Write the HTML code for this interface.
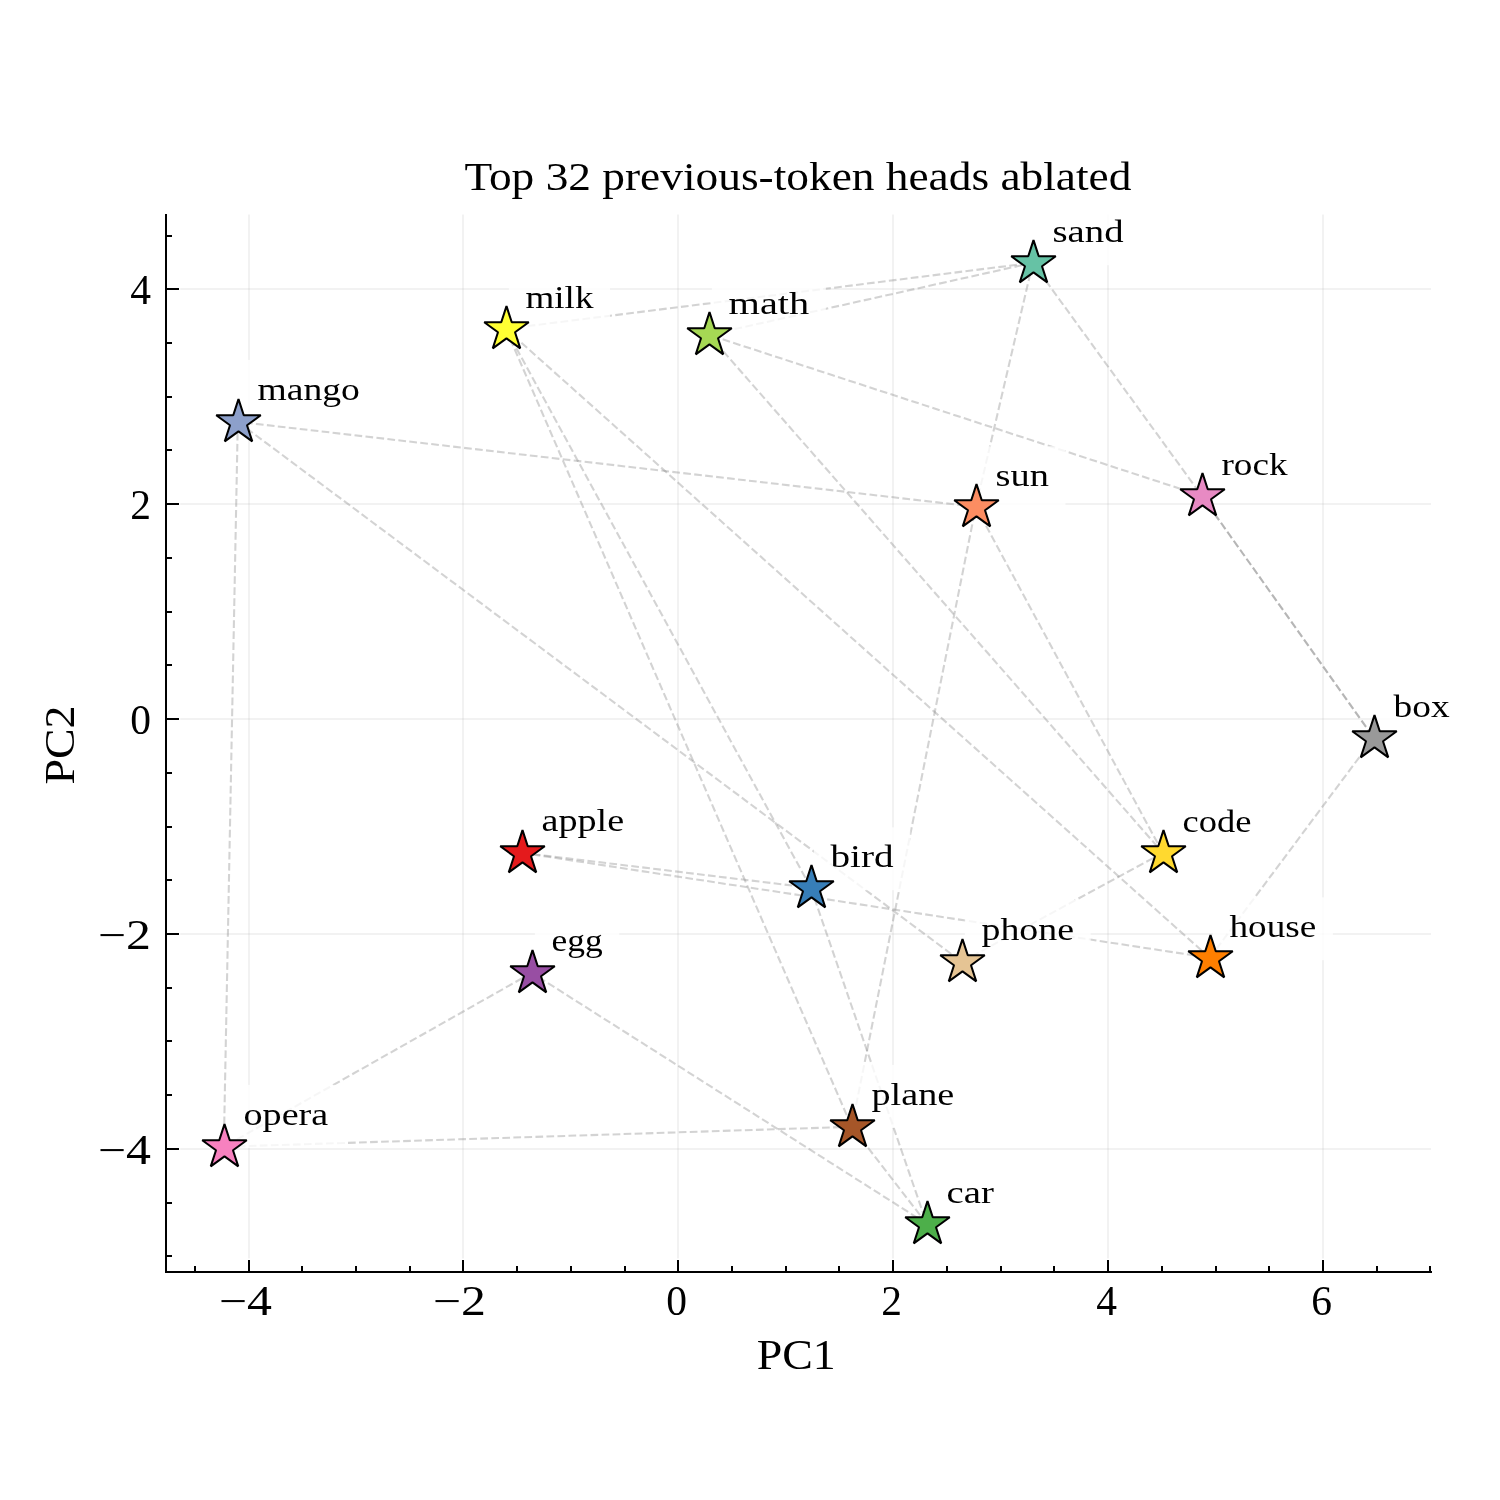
<!DOCTYPE html><html><head><meta charset="utf-8"><style>html,body{margin:0;padding:0;background:#fff;}svg{display:block;will-change:transform;}text{font-family:"Liberation Serif",serif;fill:#000;}</style></head><body>
<svg width="1500" height="1500" viewBox="0 0 1500 1500">
<rect x="0" y="0" width="1500" height="1500" fill="#fff"/>
<g stroke="#b0b0b0" stroke-opacity="0.17" stroke-width="2" fill="none">
<line x1="249" y1="214.5" x2="249" y2="1258.6"/>
<line x1="463" y1="214.5" x2="463" y2="1258.6"/>
<line x1="678" y1="214.5" x2="678" y2="1258.6"/>
<line x1="893" y1="214.5" x2="893" y2="1258.6"/>
<line x1="1108" y1="214.5" x2="1108" y2="1258.6"/>
<line x1="1323" y1="214.5" x2="1323" y2="1258.6"/>
<line x1="180.2" y1="1149" x2="1431" y2="1149"/>
<line x1="180.2" y1="934" x2="1431" y2="934"/>
<line x1="180.2" y1="719" x2="1431" y2="719"/>
<line x1="180.2" y1="504" x2="1431" y2="504"/>
<line x1="180.2" y1="289" x2="1431" y2="289"/>
</g>
<g stroke="#808080" stroke-opacity="0.35" stroke-width="2.08" stroke-dasharray="7.7 3.33" fill="none">
<line x1="505.80" y1="328.80" x2="1032.80" y2="262.80"/>
<line x1="1032.80" y1="262.80" x2="708.80" y2="334.80"/>
<line x1="1032.80" y1="262.80" x2="975.80" y2="506.80"/>
<line x1="1032.80" y1="262.80" x2="1201.80" y2="495.80"/>
<line x1="1201.80" y1="495.80" x2="708.80" y2="334.80"/>
<line x1="975.80" y1="506.80" x2="237.80" y2="421.80"/>
<line x1="851.80" y1="1126.80" x2="975.80" y2="506.80"/>
<line x1="1162.80" y1="852.80" x2="975.80" y2="506.80"/>
<line x1="708.80" y1="334.80" x2="1162.80" y2="852.80"/>
<line x1="1209.80" y1="957.80" x2="505.80" y2="328.80"/>
<line x1="1201.80" y1="495.80" x2="1373.80" y2="737.80"/>
<line x1="1201.80" y1="495.80" x2="1373.80" y2="737.80"/>
<line x1="521.80" y1="852.80" x2="810.80" y2="887.80"/>
<line x1="521.80" y1="852.80" x2="1209.80" y2="957.80"/>
<line x1="237.80" y1="421.80" x2="223.80" y2="1146.80"/>
<line x1="237.80" y1="421.80" x2="961.80" y2="961.80"/>
<line x1="505.80" y1="328.80" x2="851.80" y2="1126.80"/>
<line x1="505.80" y1="328.80" x2="810.80" y2="887.80"/>
<line x1="1209.80" y1="957.80" x2="1373.80" y2="737.80"/>
<line x1="1162.80" y1="852.80" x2="961.80" y2="961.80"/>
<line x1="810.80" y1="887.80" x2="926.80" y2="1223.80"/>
<line x1="531.80" y1="972.80" x2="223.80" y2="1146.80"/>
<line x1="926.80" y1="1223.80" x2="531.80" y2="972.80"/>
<line x1="851.80" y1="1126.80" x2="223.80" y2="1146.80"/>
<line x1="926.80" y1="1223.80" x2="851.80" y2="1126.80"/>
</g>
<g fill="#fff" fill-opacity="0.8">
<rect x="240.83" y="359.89" width="135.66" height="62.96"/>
<rect x="1035.83" y="202.29" width="104.38" height="62.96"/>
<rect x="508.83" y="268.29" width="101.23" height="62.96"/>
<rect x="711.83" y="274.29" width="114.02" height="62.96"/>
<rect x="978.83" y="446.29" width="86.67" height="62.96"/>
<rect x="1204.83" y="435.29" width="99.36" height="62.96"/>
<rect x="1376.83" y="677.29" width="89.42" height="62.96"/>
<rect x="1165.83" y="792.29" width="102.21" height="62.96"/>
<rect x="524.83" y="790.89" width="115.99" height="62.96"/>
<rect x="813.83" y="827.29" width="96.41" height="62.96"/>
<rect x="964.83" y="899.89" width="125.83" height="62.96"/>
<rect x="1212.83" y="897.29" width="120.12" height="62.96"/>
<rect x="534.83" y="910.89" width="84.50" height="62.96"/>
<rect x="854.83" y="1064.89" width="115.99" height="62.96"/>
<rect x="226.83" y="1084.89" width="118.05" height="62.96"/>
<rect x="929.83" y="1163.29" width="80.66" height="62.96"/>
</g>
<g font-size="32.0">
<text x="257.50" y="399.70" textLength="102.32" lengthAdjust="spacingAndGlyphs">mango</text>
<text x="1052.50" y="242.10" textLength="71.04" lengthAdjust="spacingAndGlyphs">sand</text>
<text x="525.50" y="308.10" textLength="67.89" lengthAdjust="spacingAndGlyphs">milk</text>
<text x="728.50" y="314.10" textLength="80.68" lengthAdjust="spacingAndGlyphs">math</text>
<text x="995.50" y="486.10" textLength="53.33" lengthAdjust="spacingAndGlyphs">sun</text>
<text x="1221.50" y="475.10" textLength="66.02" lengthAdjust="spacingAndGlyphs">rock</text>
<text x="1393.50" y="717.10" textLength="56.08" lengthAdjust="spacingAndGlyphs">box</text>
<text x="1182.50" y="832.10" textLength="68.87" lengthAdjust="spacingAndGlyphs">code</text>
<text x="541.50" y="830.70" textLength="82.65" lengthAdjust="spacingAndGlyphs">apple</text>
<text x="830.50" y="867.10" textLength="63.07" lengthAdjust="spacingAndGlyphs">bird</text>
<text x="981.50" y="939.70" textLength="92.49" lengthAdjust="spacingAndGlyphs">phone</text>
<text x="1229.50" y="937.10" textLength="86.78" lengthAdjust="spacingAndGlyphs">house</text>
<text x="551.50" y="950.70" textLength="51.16" lengthAdjust="spacingAndGlyphs">egg</text>
<text x="871.50" y="1104.70" textLength="82.65" lengthAdjust="spacingAndGlyphs">plane</text>
<text x="243.50" y="1124.70" textLength="84.71" lengthAdjust="spacingAndGlyphs">opera</text>
<text x="946.50" y="1203.10" textLength="47.32" lengthAdjust="spacingAndGlyphs">car</text>
</g>
<g stroke="#000" stroke-width="2.05" stroke-linejoin="bevel">
<path d="M238.50,399.10 L233.25,415.27 L216.25,415.27 L230.00,425.26 L224.75,441.43 L238.50,431.44 L252.25,441.43 L247.00,425.26 L260.75,415.27 L243.75,415.27 Z" fill="#8da0cb"/>
<path d="M1033.50,240.10 L1028.25,256.27 L1011.25,256.27 L1025.00,266.26 L1019.75,282.43 L1033.50,272.44 L1047.25,282.43 L1042.00,266.26 L1055.75,256.27 L1038.75,256.27 Z" fill="#66c2a5"/>
<path d="M506.50,306.10 L501.25,322.27 L484.25,322.27 L498.00,332.26 L492.75,348.43 L506.50,338.44 L520.25,348.43 L515.00,332.26 L528.75,322.27 L511.75,322.27 Z" fill="#ffff33"/>
<path d="M709.50,312.10 L704.25,328.27 L687.25,328.27 L701.00,338.26 L695.75,354.43 L709.50,344.44 L723.25,354.43 L718.00,338.26 L731.75,328.27 L714.75,328.27 Z" fill="#a6d854"/>
<path d="M976.50,484.10 L971.25,500.27 L954.25,500.27 L968.00,510.26 L962.75,526.43 L976.50,516.44 L990.25,526.43 L985.00,510.26 L998.75,500.27 L981.75,500.27 Z" fill="#fc8d62"/>
<path d="M1202.50,473.10 L1197.25,489.27 L1180.25,489.27 L1194.00,499.26 L1188.75,515.43 L1202.50,505.44 L1216.25,515.43 L1211.00,499.26 L1224.75,489.27 L1207.75,489.27 Z" fill="#e78ac3"/>
<path d="M1374.50,715.10 L1369.25,731.27 L1352.25,731.27 L1366.00,741.26 L1360.75,757.43 L1374.50,747.44 L1388.25,757.43 L1383.00,741.26 L1396.75,731.27 L1379.75,731.27 Z" fill="#999999"/>
<path d="M1163.50,830.10 L1158.25,846.27 L1141.25,846.27 L1155.00,856.26 L1149.75,872.43 L1163.50,862.44 L1177.25,872.43 L1172.00,856.26 L1185.75,846.27 L1168.75,846.27 Z" fill="#ffd92f"/>
<path d="M522.50,830.10 L517.25,846.27 L500.25,846.27 L514.00,856.26 L508.75,872.43 L522.50,862.44 L536.25,872.43 L531.00,856.26 L544.75,846.27 L527.75,846.27 Z" fill="#e41a1c"/>
<path d="M811.50,865.10 L806.25,881.27 L789.25,881.27 L803.00,891.26 L797.75,907.43 L811.50,897.44 L825.25,907.43 L820.00,891.26 L833.75,881.27 L816.75,881.27 Z" fill="#377eb8"/>
<path d="M962.50,939.10 L957.25,955.27 L940.25,955.27 L954.00,965.26 L948.75,981.43 L962.50,971.44 L976.25,981.43 L971.00,965.26 L984.75,955.27 L967.75,955.27 Z" fill="#e5c494"/>
<path d="M1210.50,935.10 L1205.25,951.27 L1188.25,951.27 L1202.00,961.26 L1196.75,977.43 L1210.50,967.44 L1224.25,977.43 L1219.00,961.26 L1232.75,951.27 L1215.75,951.27 Z" fill="#ff7f00"/>
<path d="M532.50,950.10 L527.25,966.27 L510.25,966.27 L524.00,976.26 L518.75,992.43 L532.50,982.44 L546.25,992.43 L541.00,976.26 L554.75,966.27 L537.75,966.27 Z" fill="#984ea3"/>
<path d="M852.50,1104.10 L847.25,1120.27 L830.25,1120.27 L844.00,1130.26 L838.75,1146.43 L852.50,1136.44 L866.25,1146.43 L861.00,1130.26 L874.75,1120.27 L857.75,1120.27 Z" fill="#a65628"/>
<path d="M224.50,1124.10 L219.25,1140.27 L202.25,1140.27 L216.00,1150.26 L210.75,1166.43 L224.50,1156.44 L238.25,1166.43 L233.00,1150.26 L246.75,1140.27 L229.75,1140.27 Z" fill="#f781bf"/>
<path d="M927.50,1201.10 L922.25,1217.27 L905.25,1217.27 L919.00,1227.26 L913.75,1243.43 L927.50,1233.44 L941.25,1243.43 L936.00,1227.26 L949.75,1217.27 L932.75,1217.27 Z" fill="#4daf4a"/>
</g>
<g stroke="#000" stroke-width="2" fill="none" stroke-linecap="butt">
<line x1="166.0" y1="214.0" x2="166.0" y2="1273.0"/>
<line x1="165.0" y1="1272.0" x2="1432.0" y2="1272.0"/>
<line x1="195.00" y1="1272.0" x2="195.00" y2="1266.0"/>
<line x1="249.00" y1="1272.0" x2="249.00" y2="1260.0"/>
<line x1="302.00" y1="1272.0" x2="302.00" y2="1266.0"/>
<line x1="356.00" y1="1272.0" x2="356.00" y2="1266.0"/>
<line x1="410.00" y1="1272.0" x2="410.00" y2="1266.0"/>
<line x1="463.00" y1="1272.0" x2="463.00" y2="1260.0"/>
<line x1="517.00" y1="1272.0" x2="517.00" y2="1266.0"/>
<line x1="571.00" y1="1272.0" x2="571.00" y2="1266.0"/>
<line x1="625.00" y1="1272.0" x2="625.00" y2="1266.0"/>
<line x1="678.00" y1="1272.0" x2="678.00" y2="1260.0"/>
<line x1="732.00" y1="1272.0" x2="732.00" y2="1266.0"/>
<line x1="786.00" y1="1272.0" x2="786.00" y2="1266.0"/>
<line x1="839.00" y1="1272.0" x2="839.00" y2="1266.0"/>
<line x1="893.00" y1="1272.0" x2="893.00" y2="1260.0"/>
<line x1="947.00" y1="1272.0" x2="947.00" y2="1266.0"/>
<line x1="1001.00" y1="1272.0" x2="1001.00" y2="1266.0"/>
<line x1="1054.00" y1="1272.0" x2="1054.00" y2="1266.0"/>
<line x1="1108.00" y1="1272.0" x2="1108.00" y2="1260.0"/>
<line x1="1162.00" y1="1272.0" x2="1162.00" y2="1266.0"/>
<line x1="1216.00" y1="1272.0" x2="1216.00" y2="1266.0"/>
<line x1="1269.00" y1="1272.0" x2="1269.00" y2="1266.0"/>
<line x1="1323.00" y1="1272.0" x2="1323.00" y2="1260.0"/>
<line x1="1377.00" y1="1272.0" x2="1377.00" y2="1266.0"/>
<line x1="1430.00" y1="1272.0" x2="1430.00" y2="1266.0"/>
<line x1="166.0" y1="1256.00" x2="172.0" y2="1256.00"/>
<line x1="166.0" y1="1203.00" x2="172.0" y2="1203.00"/>
<line x1="166.0" y1="1149.00" x2="179.0" y2="1149.00"/>
<line x1="166.0" y1="1095.00" x2="172.0" y2="1095.00"/>
<line x1="166.0" y1="1041.00" x2="172.0" y2="1041.00"/>
<line x1="166.0" y1="988.00" x2="172.0" y2="988.00"/>
<line x1="166.0" y1="934.00" x2="179.0" y2="934.00"/>
<line x1="166.0" y1="880.00" x2="172.0" y2="880.00"/>
<line x1="166.0" y1="827.00" x2="172.0" y2="827.00"/>
<line x1="166.0" y1="773.00" x2="172.0" y2="773.00"/>
<line x1="166.0" y1="719.00" x2="179.0" y2="719.00"/>
<line x1="166.0" y1="665.00" x2="172.0" y2="665.00"/>
<line x1="166.0" y1="612.00" x2="172.0" y2="612.00"/>
<line x1="166.0" y1="558.00" x2="172.0" y2="558.00"/>
<line x1="166.0" y1="504.00" x2="179.0" y2="504.00"/>
<line x1="166.0" y1="450.00" x2="172.0" y2="450.00"/>
<line x1="166.0" y1="397.00" x2="172.0" y2="397.00"/>
<line x1="166.0" y1="343.00" x2="172.0" y2="343.00"/>
<line x1="166.0" y1="289.00" x2="179.0" y2="289.00"/>
<line x1="166.0" y1="236.00" x2="172.0" y2="236.00"/>
</g>
<g font-size="41.5">
<text x="245.50" y="1314.5" text-anchor="middle" textLength="53.03" lengthAdjust="spacingAndGlyphs">−4</text>
<text x="459.50" y="1314.5" text-anchor="middle" textLength="53.03" lengthAdjust="spacingAndGlyphs">−2</text>
<text x="676.70" y="1314.5" text-anchor="middle" textLength="20.75" lengthAdjust="spacingAndGlyphs">0</text>
<text x="891.70" y="1314.5" text-anchor="middle" textLength="20.75" lengthAdjust="spacingAndGlyphs">2</text>
<text x="1106.70" y="1314.5" text-anchor="middle" textLength="20.75" lengthAdjust="spacingAndGlyphs">4</text>
<text x="1321.70" y="1314.5" text-anchor="middle" textLength="20.75" lengthAdjust="spacingAndGlyphs">6</text>
<text x="97.97" y="1163.50" textLength="53.03" lengthAdjust="spacingAndGlyphs">−4</text>
<text x="97.97" y="948.50" textLength="53.03" lengthAdjust="spacingAndGlyphs">−2</text>
<text x="130.25" y="733.50" textLength="20.75" lengthAdjust="spacingAndGlyphs">0</text>
<text x="130.25" y="518.50" textLength="20.75" lengthAdjust="spacingAndGlyphs">2</text>
<text x="130.25" y="303.50" textLength="20.75" lengthAdjust="spacingAndGlyphs">4</text>
</g>
<text x="796.2" y="1368.6" font-size="41.5" text-anchor="middle" textLength="78.97" lengthAdjust="spacingAndGlyphs">PC1</text>
<text x="0" y="0" font-size="41.5" text-anchor="middle" textLength="78.97" lengthAdjust="spacingAndGlyphs" transform="translate(74,745) rotate(-90)">PC2</text>
<text x="797.9" y="189.7" font-size="40" text-anchor="middle" textLength="667" lengthAdjust="spacingAndGlyphs">Top 32 previous-token heads ablated</text>
</svg></body></html>
